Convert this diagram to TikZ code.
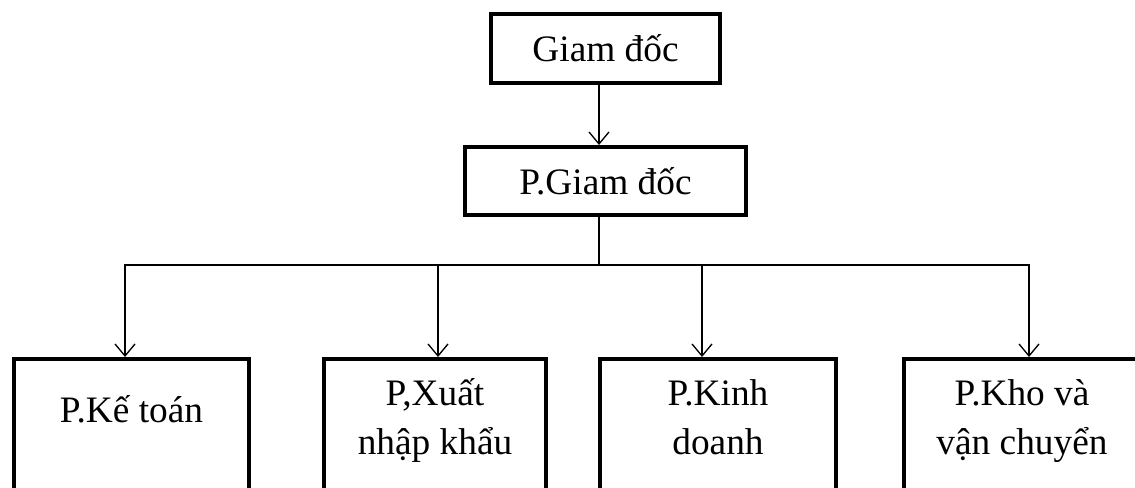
\documentclass[tikz,border=0pt]{standalone}
\usepackage{fontspec}
\setmainfont{Liberation Serif}
\usetikzlibrary{arrows.meta}

\tikzset{
	box/.style={draw, line width=3pt, inner sep=0pt, align=center,
		font=\fontsize{28}{36.75}\selectfont},
	deptbox/.style={box, anchor=north, text height=71.25pt, text depth=130pt},
	link/.style={line width=1pt, -{Straight Barb[length=9pt,width=15pt]}},
	wire/.style={line width=1pt}
}

\begin{document}
\begin{tikzpicture}[x=0.75pt, y=-0.75pt]
	
	% Khung
	\useasboundingbox (0,0) rectangle (1135,488);
	
	% Lanh dao
	\node[box, minimum width=171.75pt, minimum height=51.75pt] (giamdoc) at (605.5,48.5) {Giam đốc};
	\node[box, minimum width=210.75pt, minimum height=51pt] (pgiamdoc) at (605.5,181) {P.Giam đốc};
	
	% Phong ban
	\node[deptbox, minimum width=176.25pt, text height=47.25pt] (ketoan) at (131.5,357) {P.Kế toán};
	\node[deptbox, minimum width=166.5pt] (xnk) at (435,357) {P,Xuất\\nhập khẩu};
	\node[deptbox, minimum width=177pt] (kinhdoanh) at (718,357) {P.Kinh\\doanh};
	\node[deptbox, minimum width=177pt] (kho) at (1022,357) {P.Kho và\\vận chuyển};
	
	% Ket noi
	\coordinate (truc) at (599,265);
	\draw[link] (giamdoc.south -| truc) -- (pgiamdoc.north -| truc);
	\draw[wire] (pgiamdoc.south -| truc) -- (truc);
	\foreach \phong/\px in {ketoan/125, xnk/438, kinhdoanh/702, kho/1029}
		\draw[link] (truc) -| (\px,0 |- \phong.north);
	
\end{tikzpicture}
\end{document}
